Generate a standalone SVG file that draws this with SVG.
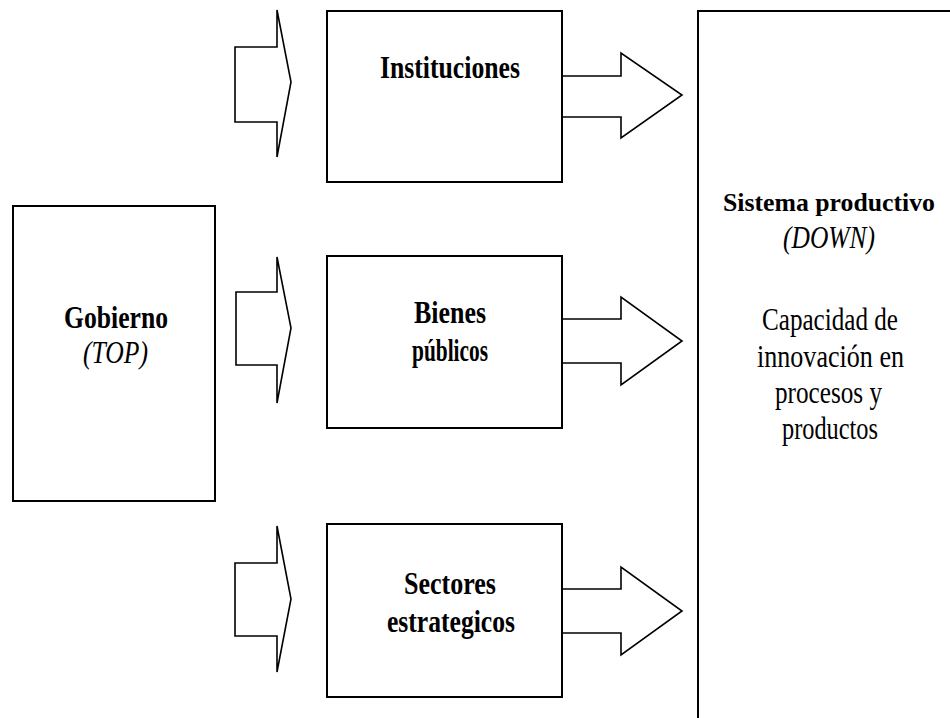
<svg xmlns="http://www.w3.org/2000/svg" width="950" height="718" viewBox="0 0 950 718">
<style>
.box{fill:#fff;stroke:#000;stroke-width:2}
.edge{fill:none;stroke:#000;stroke-width:2}
.arr{fill:#fff;stroke:#000;stroke-width:1.6;stroke-linejoin:miter}
text{font-family:'Liberation Serif','Times New Roman','DejaVu Serif',serif;font-size:32px;text-anchor:middle;fill:#000}
.b{font-weight:bold}
.i{font-style:italic}
</style>
<rect width="950" height="718" fill="#fff"/>
<g id="connectors">
<polygon class="arr" points="235,47 277,47 277,10 291,82 277,157 277,122 235,122"/>
<polygon class="arr" points="236,292 277,292 277,257 291,328 277,403 277,365 236,365"/>
<polygon class="arr" points="235,563 277,563 277,526 291,599 277,672 277,636 235,636"/>
<polyline class="arr" points="562,76 621,76 621,53 682,95 621,138 621,117 562,117"/>
<polyline class="arr" points="562,319 621,319 621,297 682,341 621,385 621,363 562,363"/>
<polyline class="arr" points="562,589 621,589 621,567 682,611 621,655 621,633 562,633"/>
</g>
<g id="gobierno">
<rect class="box" x="13" y="206" width="202" height="295"/>
<text class="b" x="116" y="328" textLength="104" lengthAdjust="spacingAndGlyphs" font-family="Liberation Serif, serif">Gobierno</text>
<text class="i" x="115.5" y="363" textLength="65" lengthAdjust="spacingAndGlyphs" font-family="Liberation Serif, serif">(TOP)</text>
</g>
<g id="instituciones">
<rect class="box" x="327" y="11" width="235" height="171"/>
<text class="b" x="450" y="78" textLength="140" lengthAdjust="spacingAndGlyphs" font-family="Liberation Serif, serif">Instituciones</text>
</g>
<g id="bienes">
<rect class="box" x="327" y="256" width="235" height="172"/>
<text class="b" x="450" y="323" textLength="72" lengthAdjust="spacingAndGlyphs" font-family="Liberation Serif, serif">Bienes</text>
<text class="b" x="450" y="361" textLength="76" lengthAdjust="spacingAndGlyphs" font-family="Liberation Serif, serif">públicos</text>
</g>
<g id="sectores">
<rect class="box" x="327" y="524" width="235" height="173"/>
<text class="b" x="450" y="594" textLength="92" lengthAdjust="spacingAndGlyphs" font-family="Liberation Serif, serif">Sectores</text>
<text class="b" x="451" y="632" textLength="128" lengthAdjust="spacingAndGlyphs" font-family="Liberation Serif, serif">estrategicos</text>
</g>
<g id="sistema">
<path class="edge" d="M950,11 H698 V718"/>
<text class="b" x="829" y="211" textLength="212" lengthAdjust="spacingAndGlyphs" font-family="Liberation Serif, serif" style="font-size:26px">Sistema productivo</text>
<text class="i" x="829" y="248" textLength="92" lengthAdjust="spacingAndGlyphs" font-family="Liberation Serif, serif">(DOWN)</text>
<text x="830" y="330" textLength="136" lengthAdjust="spacingAndGlyphs" font-family="Liberation Serif, serif">Capacidad de</text>
<text x="830.5" y="366.5" textLength="147" lengthAdjust="spacingAndGlyphs" font-family="Liberation Serif, serif">innovación en</text>
<text x="828.5" y="403" textLength="107" lengthAdjust="spacingAndGlyphs" font-family="Liberation Serif, serif">procesos y</text>
<text x="830" y="439" textLength="96" lengthAdjust="spacingAndGlyphs" font-family="Liberation Serif, serif">productos</text>
</g>
</svg>
